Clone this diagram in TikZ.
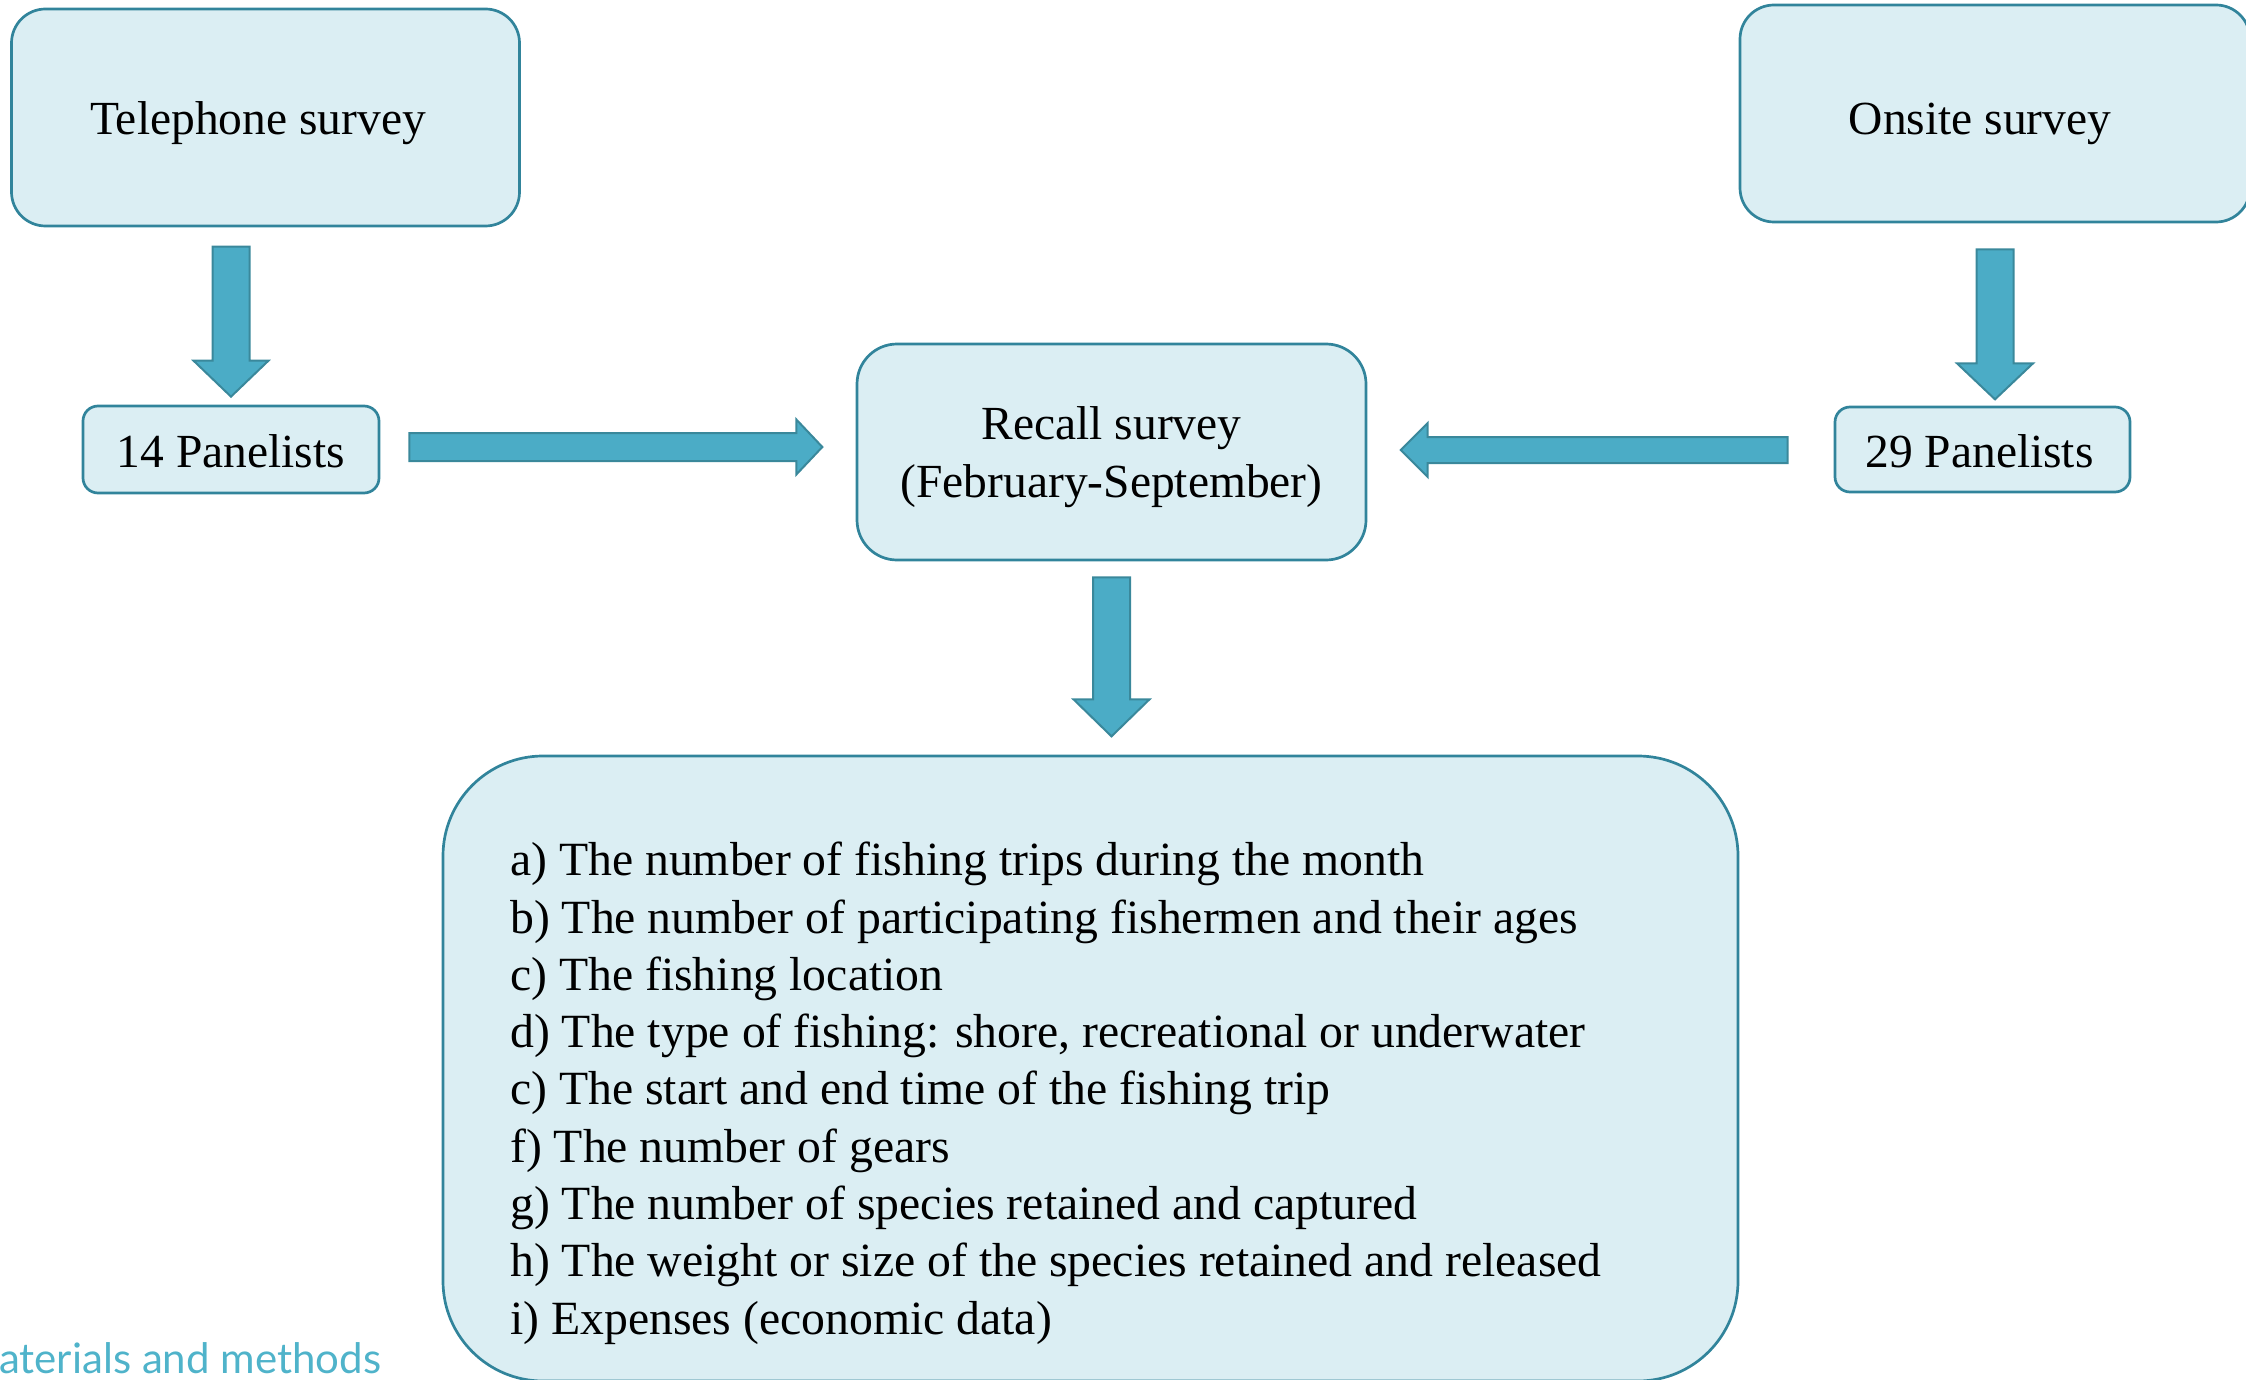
\documentclass[tikz,border=0pt]{standalone}
\usepackage{fontspec}
\setmainfont{Liberation Serif}
\newfontfamily\latofont{Lato}
\usetikzlibrary{calc}
\definecolor{boxfill}{HTML}{DBEEF3}
\definecolor{boxline}{HTML}{31849B}
\definecolor{arrfill}{HTML}{4BACC6}
\definecolor{arrline}{HTML}{3A889B}
\definecolor{headcol}{HTML}{4FB3CA}
\newcommand\blockarrow[6]{%
  \draw[barrow, shift={(#1)}, rotate=#2] (0,-#4) -- (#3-#6,-#4) -- (#3-#6,-#5) -- (#3,0) -- (#3-#6,#5) -- (#3-#6,#4) -- (0,#4) -- cycle;}
\begin{document}
\begin{tikzpicture}[x=1pt,y=-1pt,
  box/.style={draw=boxline, fill=boxfill, line width=2.7pt, inner sep=0pt,
    font=\fontsize{47.5pt}{57.3pt}\selectfont, align=center},
  barrow/.style={draw=arrline, fill=arrfill, line width=2pt, line join=miter}]
\useasboundingbox (0,0) rectangle (2246,1380);
% boxes
\node[box, rounded corners=34pt, minimum width=508pt, minimum height=217pt, text height=35pt, text depth=0pt]
  (tel) at (265.5,117.5) {Telephone survey\hspace*{15pt}};
\node[box, rounded corners=34pt, minimum width=510pt, minimum height=217pt, text height=43pt, text depth=0pt]
  (onsite) at (1995,113.5) {Onsite survey\hspace*{30pt}};
\node[box, rounded corners=15pt, minimum width=296pt, minimum height=87pt, text height=35pt, text depth=0pt]
  (p14) at (231,449.5) {14 Panelists};
\node[box, rounded corners=15pt, minimum width=295pt, minimum height=85pt, text height=35pt, text depth=0pt]
  (p29) at (1982.5,449.5) {29 Panelists\hspace*{6pt}};
\node[box, rounded corners=40pt, minimum width=509pt, minimum height=216pt, text depth=0pt]
  (recall) at (1111.5,452) {Recall survey\\(February-September)};
\node[box, rounded corners=100pt, minimum width=1295pt, minimum height=625pt]
  (data) at (1090.5,1068.5) {};
\node[anchor=north west, inner sep=0pt, align=left,
  font=\fontsize{47.7pt}{57.3pt}\selectfont] (items) at (510,842) {%
a) The number of fishing trips during the month\\
b) The number of participating fishermen and their ages\\
c) The fishing location\\
d) The type of fishing: shore, recreational or underwater\\
c) The start and end time of the fishing trip\\
f) The number of gears\\
g) The number of species retained and captured\\
h) The weight or size of the species retained and released\\
i) Expenses (economic data)};
% footer text
\node[anchor=base west, inner sep=0pt, text=headcol, font=\latofont\fontsize{42pt}{50pt}\selectfont]
  (foot) at (-1,1373) {aterials and methods};
% block arrows
\coordinate (a1s) at ($(p14.north)+(0,-158)$);
\coordinate (a2s) at ($(onsite.south)+(0,26)$);
\coordinate (a3s) at ($(p14.east)+(29,-2.5)$);
\coordinate (a4s) at ($(p29.west)+(-46,0.5)$);
\coordinate (a5s) at ($(recall.south)+(0,16)$);
\blockarrow{a1s}{-90}{150}{18.5}{37.5}{36}
\blockarrow{a2s}{-90}{150}{18.5}{38}{36}
\blockarrow{a3s}{0}{413}{14}{27.5}{26}
\blockarrow{a4s}{180}{387}{13}{27}{27}
\blockarrow{a5s}{-90}{159}{18.5}{38}{37}
\end{tikzpicture}
\end{document}
